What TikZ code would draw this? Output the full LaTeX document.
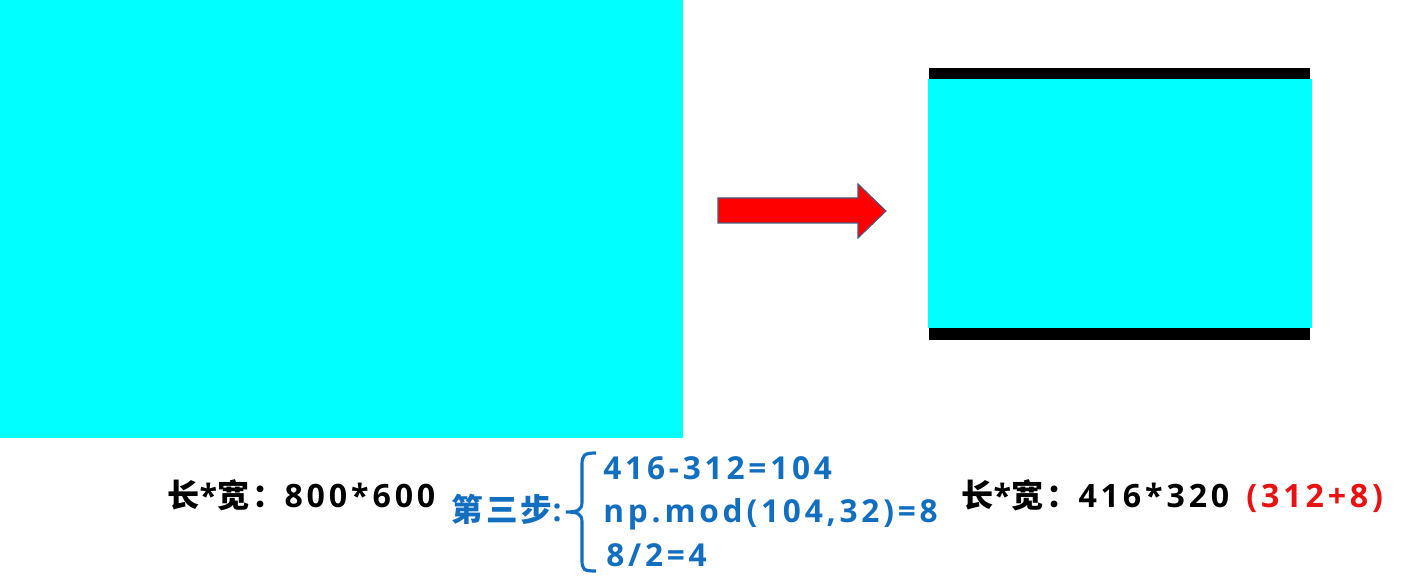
\documentclass[tikz,border=0pt]{standalone}
\usepackage{fontspec}
\usepackage{tikz}
\newfontfamily\latinf{Open Sans}[LetterSpace=12]
\newfontfamily\cjkf{Noto Sans CJK SC}[LetterSpace=10]
\newcommand{\zh}[1]{{\cjkf #1}}
\definecolor{aqua}{RGB}{0,255,255}
\definecolor{stepblue}{RGB}{18,110,190}
\definecolor{notered}{RGB}{232,18,18}
\definecolor{arrowedge}{RGB}{70,90,130}
\def\pxu{0.02cm}

\tikzset{
  screen/.style={fill=aqua, inner sep=0pt, outer sep=0pt, anchor=north west},
  bar/.style={fill=black, inner sep=0pt, outer sep=0pt, anchor=north west},
  sizelbl/.style={font=\latinf\bfseries\fontsize{18.3}{21}\selectfont, inner sep=0pt, anchor=base west},
  steplbl/.style={font=\latinf\bfseries\fontsize{18}{21}\selectfont, text=stepblue, inner sep=0pt, anchor=base west}
}

\begin{document}
\begin{tikzpicture}[x=\pxu, y=-\pxu]
  \useasboundingbox (0,0) rectangle (1410,584);
  % source frame
  \node[screen, minimum width={683*\pxu}, minimum height={438*\pxu}] (src) at (0,0) {};
  % target frame with black bars
  \node[bar, minimum width={381*\pxu}, minimum height={272*\pxu}] (dstbar) at (929,68) {};
  \node[screen, minimum width={384*\pxu}, minimum height={249*\pxu}] (dst) at (928,79) {};
  % red block arrow
  \draw[arrowedge, fill=red, line width=0.6pt] (718,198) -- (858,198) -- (858,184) -- (886,211)
    -- (858,238) -- (858,223) -- (718,223) -- cycle;
  % sizes
  \node[sizelbl] (srcsize) at (167,507) {\zh{长}*\zh{宽：}800*600};
  \node[sizelbl] (dstsize) at (961,507) {\zh{长}*\zh{宽：}416*320};
  \node[sizelbl, text=notered] (dstnote) at (1246,507) {(312+8)};
  % step three
  \node[steplbl] (step) at (451,521) {\zh{第三步}:};
  \node[steplbl] (line1) at (603,479) {416-312=104};
  \node[steplbl] (line2) at (603,522) {np.mod(104,32)=8};
  \node[steplbl] (line3) at (606,566) {8/2=4};
  % brace
  \draw[stepblue, line width=1.8pt] (596,453) .. controls (584,453) and (582,455) .. (582,465)
    -- (582,502) .. controls (582,510) and (578,512) .. (566,512)
    .. controls (578,512) and (582,514) .. (582,522)
    -- (582,560) .. controls (582,570) and (584,571) .. (596,571);
\end{tikzpicture}
\end{document}
